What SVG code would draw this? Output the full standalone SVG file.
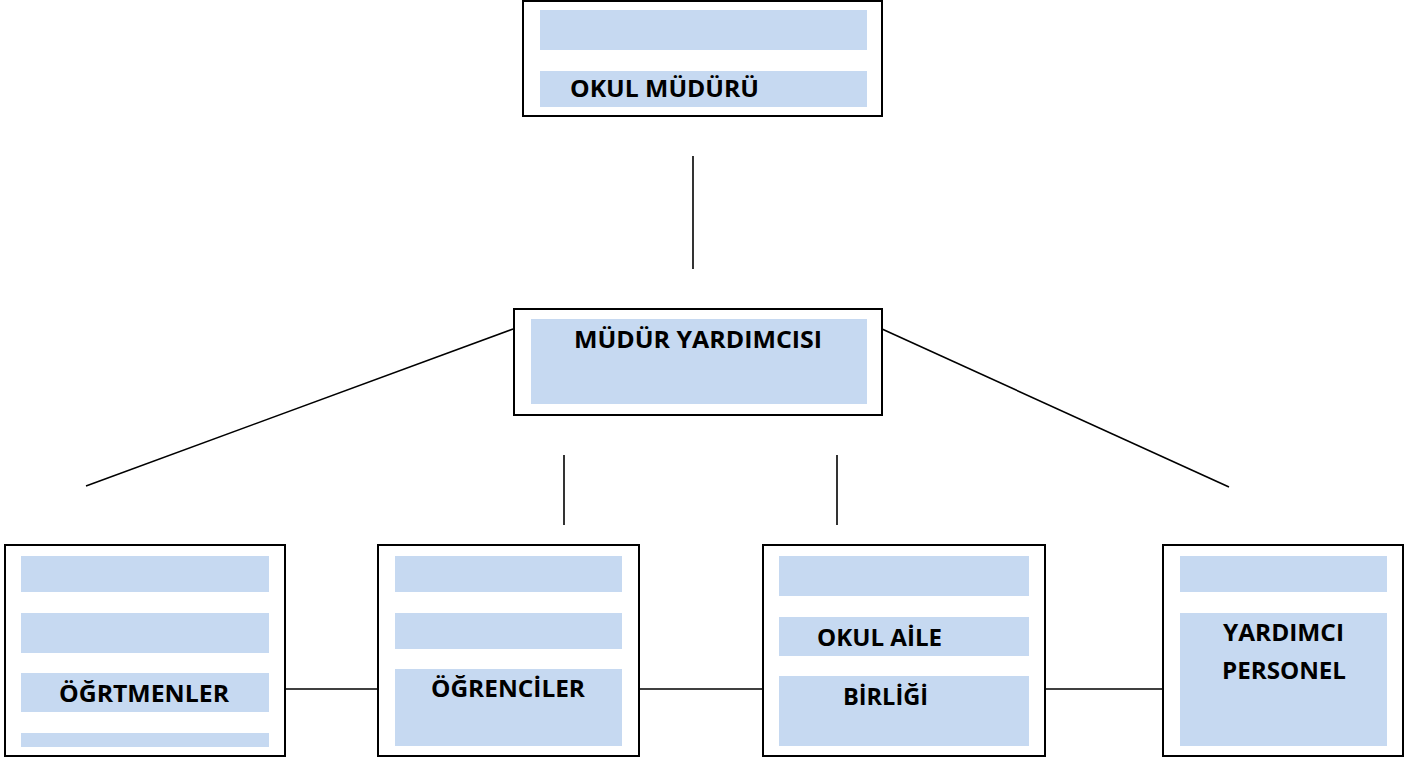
<svg xmlns="http://www.w3.org/2000/svg" width="1419" height="760" viewBox="0 0 1419 760">
<style>
.box{fill:#fff;stroke:#000;stroke-width:2}
.bl{fill:#C6D9F1}
.t{font-family:"Open Sans","Liberation Sans",sans-serif;font-weight:bold;font-size:23.5px;fill:#000}
.c{stroke:#000;stroke-width:1.6;fill:none}
</style>
<rect width="1419" height="760" fill="#fff"/>
<g id="connectors">
<line class="c" x1="693" y1="156" x2="693" y2="269"/>
<line class="c" x1="513" y1="329" x2="86" y2="486"/>
<line class="c" x1="882" y1="329" x2="1229" y2="487"/>
<line class="c" x1="564" y1="455" x2="564" y2="525"/>
<line class="c" x1="837" y1="455" x2="837" y2="525"/>
<line class="c" x1="285" y1="689" x2="378" y2="689"/>
<line class="c" x1="639" y1="689" x2="763" y2="689"/>
<line class="c" x1="1045" y1="689" x2="1163" y2="689"/>
</g>
<g id="okul-muduru">
<rect class="box" x="523" y="1" width="359" height="115"/>
<rect class="bl" x="540" y="10" width="327" height="40"/>
<rect class="bl" x="540" y="71" width="327" height="36"/>
<text class="t" x="570" y="97" textLength="189" lengthAdjust="spacingAndGlyphs">OKUL MÜDÜRÜ</text>
</g>
<g id="mudur-yardimcisi">
<rect class="box" x="514" y="309" width="368" height="106"/>
<rect class="bl" x="531" y="319" width="336" height="85"/>
<text class="t" x="574" y="348" textLength="248" lengthAdjust="spacingAndGlyphs">MÜDÜR YARDIMCISI</text>
</g>
<g id="ogretmenler">
<rect class="box" x="5" y="545" width="280" height="211"/>
<rect class="bl" x="21" y="556" width="248" height="36"/>
<rect class="bl" x="21" y="613" width="248" height="40"/>
<rect class="bl" x="21" y="673" width="248" height="39"/>
<rect class="bl" x="21" y="733" width="248" height="14"/>
<text class="t" x="59" y="702" textLength="170" lengthAdjust="spacingAndGlyphs">ÖĞRTMENLER</text>
</g>
<g id="ogrenciler">
<rect class="box" x="378" y="545" width="261" height="211"/>
<rect class="bl" x="395" y="556" width="227" height="36"/>
<rect class="bl" x="395" y="613" width="227" height="36"/>
<rect class="bl" x="395" y="669" width="227" height="77"/>
<text class="t" x="431" y="697" textLength="154" lengthAdjust="spacingAndGlyphs">ÖĞRENCİLER</text>
</g>
<g id="okul-aile-birligi">
<rect class="box" x="763" y="545" width="282" height="211"/>
<rect class="bl" x="779" y="556" width="250" height="40"/>
<rect class="bl" x="779" y="617" width="250" height="39"/>
<rect class="bl" x="779" y="676" width="250" height="70"/>
<text class="t" x="817" y="646" textLength="125" lengthAdjust="spacingAndGlyphs">OKUL AİLE</text>
<text class="t" x="843" y="705" textLength="85" lengthAdjust="spacingAndGlyphs">BİRLİĞİ</text>
</g>
<g id="yardimci-personel">
<rect class="box" x="1163" y="545" width="240" height="211"/>
<rect class="bl" x="1180" y="556" width="207" height="36"/>
<rect class="bl" x="1180" y="613" width="207" height="133"/>
<text class="t" x="1223" y="641" textLength="121" lengthAdjust="spacingAndGlyphs">YARDIMCI</text>
<text class="t" x="1222" y="679" textLength="124" lengthAdjust="spacingAndGlyphs">PERSONEL</text>
</g>
</svg>
